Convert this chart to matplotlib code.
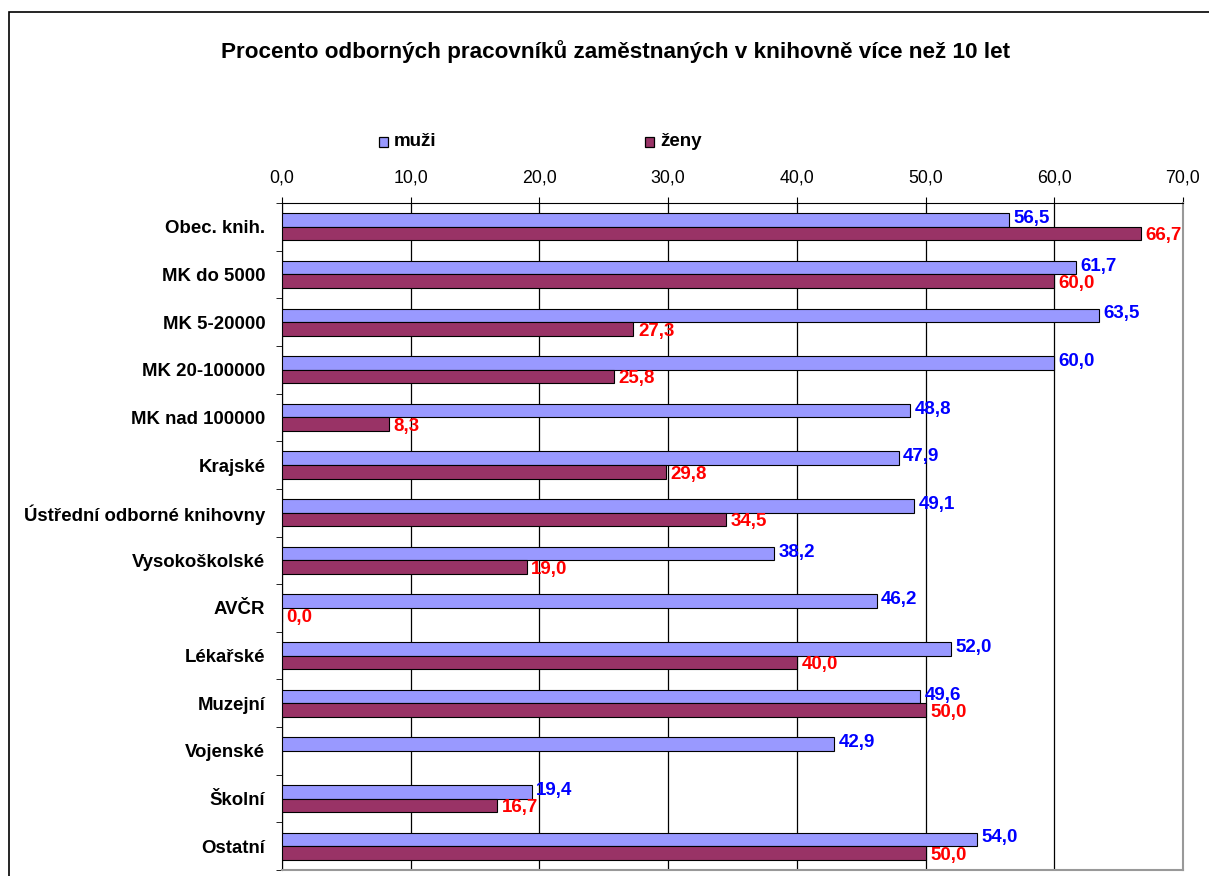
import matplotlib.pyplot as plt
import matplotlib.patches as mpatches
import numpy as np

plt.rcParams['font.family'] = ['Liberation Sans', 'DejaVu Sans']

categories = ["Obec. knih.", "MK do 5000", "MK 5-20000", "MK 20-100000",
              "MK nad 100000", "Krajské", "Ústřední odborné knihovny",
              "Vysokoškolské", "AVČR", "Lékařské", "Muzejní", "Vojenské",
              "Školní", "Ostatní"]
muzi = [56.5, 61.7, 63.5, 60.0, 48.8, 47.9, 49.1, 38.2, 46.2, 52.0, 49.6, 42.9, 19.4, 54.0]
zeny = [66.7, 60.0, 27.3, 25.8, 8.3, 29.8, 34.5, 19.0, 0.0, 40.0, 50.0, None, 16.7, 50.0]
ticks = [0, 10, 20, 30, 40, 50, 60, 70]

c_muzi = "#9999FF"
c_zeny = "#993366"

fig = plt.figure(figsize=(12.09, 8.76), dpi=100)
ax = fig.add_axes([282 / 1209, 1 - 870 / 876, (1183 - 282) / 1209, (870 - 203) / 876])

# outer chart frame
fig.patches.append(mpatches.Rectangle((9 / 1209, -0.01), 1.2, 1 - 12 / 876 + 0.01,
                                      transform=fig.transFigure, fill=False,
                                      edgecolor="black", linewidth=1.2))

y = np.arange(len(categories))
h = 0.285
ax.barh(y - h / 2, muzi, height=h, color=c_muzi, edgecolor="black", linewidth=0.8, zorder=3)
zv = [v if v is not None else 0 for v in zeny]
zb = ax.barh(y + h / 2, zv, height=h, color=c_zeny, edgecolor="black", linewidth=0.8, zorder=3)
for i, v in enumerate(zeny):
    if v is None:
        zb[i].set_visible(False)

for i, v in enumerate(muzi):
    ax.text(v + 0.35, i - h / 2 - 0.03, f"{v:.1f}".replace(".", ","), color="#0000FF",
            fontsize=13.5, fontweight="bold", va="center", ha="left", zorder=4)
for i, v in enumerate(zeny):
    if v is None:
        continue
    ax.text(v + 0.35, i + h / 2 + 0.05, f"{v:.1f}".replace(".", ","), color="#FF0000",
            fontsize=13.5, fontweight="bold", va="center", ha="left", zorder=4)

ax.set_xlim(0, 70)
ax.set_ylim(len(categories) - 0.5, -0.5)
ax.xaxis.tick_top()
ax.set_xticks(ticks)
ax.set_xticklabels([f"{t:.1f}".replace(".", ",") for t in ticks], fontsize=12.8)
ax.tick_params(axis="x", length=4, pad=8, color="black")
ax.set_yticks(y)
ax.set_yticklabels(categories, fontsize=13.4, fontweight="bold")
ax.set_yticks(np.arange(len(categories) + 1) - 0.5, minor=True)
ax.tick_params(axis="y", which="major", length=0, pad=12)
ax.tick_params(axis="y", which="minor", length=4, color="black")
ax.grid(axis="x", color="black", linewidth=0.9, zorder=0)
ax.spines["left"].set_color("black")
ax.spines["top"].set_color("black")
ax.spines["right"].set_color("#999999")
ax.spines["bottom"].set_color("#999999")
ax.spines["right"].set_linewidth(1.5)
ax.spines["bottom"].set_linewidth(1.5)

fig.text(0.5 * (219 + 1012) / 1209, 1 - 52 / 876,
         "Procento odborných pracovníků zaměstnaných v knihovně více než 10 let",
         ha="center", va="center", fontsize=16.2, fontweight="bold")

# legend
for xm, lab, col in [(383, "muži", c_muzi), (649, "ženy", c_zeny)]:
    fig.patches.append(mpatches.Rectangle(((xm - 4.5) / 1209, 1 - 146.5 / 876), 9 / 1209, 9 / 876,
                                          transform=fig.transFigure, facecolor=col,
                                          edgecolor="black", linewidth=0.9))
    fig.text((xm + 11) / 1209, 1 - 141 / 876, lab, ha="left", va="center",
             fontsize=13.5, fontweight="bold")

fig.savefig("out.png", dpi=100)
